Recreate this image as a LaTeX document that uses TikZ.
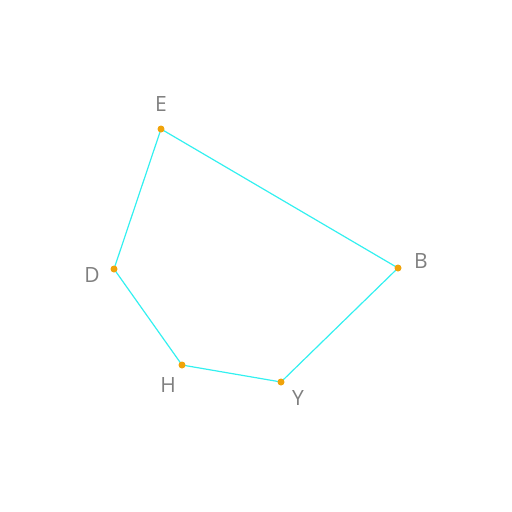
\documentclass[tikz,border=0pt]{standalone}
\usepackage{fontspec}
\setmainfont{Open Sans}
\usetikzlibrary{positioning,backgrounds}
\definecolor{edgeline}{HTML}{33F0F0}
\definecolor{vertexdot}{HTML}{F0A30A}
\definecolor{labeltext}{HTML}{7F7F7F}

\begin{document}
\begin{tikzpicture}[
  x=1pt, y=-1pt,
  vertex/.style={circle, fill=vertexdot, inner sep=0pt, minimum size=7pt},
  lbl/.style={text=labeltext, font=\fontsize{21}{24}\selectfont, inner sep=0pt},
  edge/.style={draw=edgeline, line width=1.2pt},
]
\useasboundingbox (0,0) rectangle (512,512);
% vertices of the polygon
\node[vertex] (E) at (161,129) {};
\node[vertex] (B) at (398,268) {};
\node[vertex] (Y) at (281,382) {};
\node[vertex] (H) at (182,365) {};
\node[vertex] (D) at (114,269) {};
% outline, under the dots
\begin{scope}[on background layer]
  \draw[edge] (E.center) -- (B.center) -- (Y.center) -- (H.center) -- (D.center) -- cycle;
\end{scope}
% labels
\node[lbl] (lE) at (161,104) {E};
\node[lbl] (lB) at (421,261) {B};
\node[lbl] (lY) at (298,398) {Y};
\node[lbl] (lH) at (168,385) {H};
\node[lbl] (lD) at (92,275) {D};
\end{tikzpicture}
\end{document}
